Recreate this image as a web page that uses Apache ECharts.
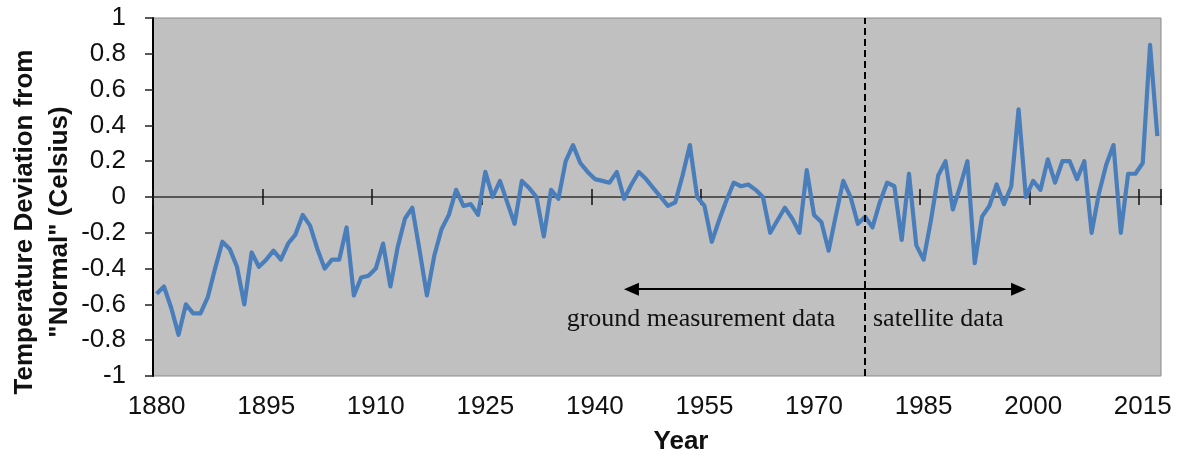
<!DOCTYPE html>
<html>
<head>
<meta charset="utf-8">
<script src="https://cdn.jsdelivr.net/npm/echarts@6/dist/echarts.min.js"></script>
<style>
html,body{margin:0;padding:0;background:#ffffff;}
#chart{width:1182px;height:459px;}
</style>
</head>
<body>
<div id="chart"></div>
<script>
// ---------- data ----------
const firstYear = 1880;
const lastYear = 2017;
const years = [];
for (let y = firstYear; y <= lastYear; y++) years.push(String(y));

const anomalies = [
  -0.54, -0.50, -0.62, -0.77, -0.60, -0.65, -0.65, -0.56, -0.40, -0.25, // 1880-1889
  -0.29, -0.39, -0.60, -0.31, -0.39, -0.35, -0.30, -0.35, -0.26, -0.21, // 1890-1899
  -0.10, -0.16, -0.29, -0.40, -0.35, -0.35, -0.17, -0.55, -0.45, -0.44, // 1900-1909
  -0.40, -0.26, -0.50, -0.28, -0.12, -0.06, -0.30, -0.55, -0.33, -0.18, // 1910-1919
  -0.10,  0.04, -0.05, -0.04, -0.10,  0.14,  0.00,  0.09, -0.03, -0.15, // 1920-1929
   0.09,  0.05,  0.00, -0.22,  0.04, -0.01,  0.20,  0.29,  0.19,  0.14, // 1930-1939
   0.10,  0.09,  0.08,  0.14, -0.01,  0.07,  0.14,  0.10,  0.05,  0.00, // 1940-1949
  -0.05, -0.03,  0.12,  0.29,  0.00, -0.05, -0.25, -0.13, -0.02,  0.08, // 1950-1959
   0.06,  0.07,  0.04,  0.00, -0.20, -0.13, -0.06, -0.12, -0.20,  0.15, // 1960-1969
  -0.10, -0.14, -0.30, -0.10,  0.09,  0.00, -0.15, -0.11, -0.17, -0.03, // 1970-1979
   0.08,  0.06, -0.24,  0.13, -0.27, -0.35, -0.13,  0.12,  0.20, -0.07, // 1980-1989
   0.06,  0.20, -0.37, -0.11, -0.05,  0.07, -0.04,  0.06,  0.49,  0.00, // 1990-1999
   0.09,  0.04,  0.21,  0.08,  0.20,  0.20,  0.10,  0.20, -0.20,  0.02, // 2000-2009
   0.18,  0.29, -0.20,  0.13,  0.13,  0.19,  0.85,  0.34              // 2010-2017
];

const yMin = -1, yMax = 1, yStep = 0.2;
const labelEvery = 15;
const dividerYear = '1977';
const groundArrowEnd = '1945';
const satelliteArrowEnd = '1998';
const arrowLevel = -0.515;

const yTitle = 'Temperature Deviation from\n"Normal" (Celsius)';
const xTitle = 'Year';
const groundText = 'ground measurement data';
const satelliteText = 'satellite data';

// ---------- chart ----------
const chart = echarts.init(document.getElementById('chart'), null, {renderer: 'canvas'});
const sans = '"Liberation Sans", Arial, sans-serif';
const serif = '"Liberation Serif", "Times New Roman", serif';

const option = {
  animation: false,
  grid: {
    left: 153, right: 21, top: 18, bottom: 83,
    show: true, backgroundColor: '#c0c0c0', borderColor: '#8a8a8a', borderWidth: 1
  },
  xAxis: [
    {
      type: 'category', data: years, boundaryGap: true, position: 'bottom',
      axisLine: {show: false, onZero: false},
      axisTick: {show: false},
      axisLabel: {interval: labelEvery - 1, margin: 18, fontSize: 26, color: '#111', fontFamily: sans},
      splitLine: {show: false}
    },
    {
      type: 'category', data: years, boundaryGap: true, position: 'top',
      axisLine: {show: true, onZero: true, onZeroAxisIndex: 0, lineStyle: {color: '#333', width: 1.5}},
      axisTick: {show: true, interval: labelEvery - 1, length: 8, lineStyle: {color: '#111', width: 1.5}},
      axisLabel: {show: false},
      splitLine: {show: false}
    },
    {
      type: 'category', data: years, boundaryGap: true, position: 'bottom',
      axisLine: {show: false, onZero: true, onZeroAxisIndex: 1},
      axisTick: {show: true, interval: labelEvery - 1, length: 8, lineStyle: {color: '#111', width: 1.5}},
      axisLabel: {show: false},
      splitLine: {show: false}
    }
  ],
  yAxis: [
    {
      type: 'value', min: yMin, max: yMax, interval: yStep,
      axisLine: {show: true, lineStyle: {color: '#000', width: 2}},
      axisTick: {show: true, length: 8, lineStyle: {color: '#222', width: 1.5}},
      axisLabel: {fontSize: 26, margin: 27, color: '#111', fontFamily: sans},
      splitLine: {show: false}
    },
    {
      type: 'value', min: yMin, max: yMax, interval: yStep, show: false,
      splitLine: {show: false}
    }
  ],
  series: [
    {
      type: 'line', xAxisIndex: 0, yAxisIndex: 0,
      data: anomalies, symbol: 'none', smooth: false,
      lineStyle: {color: '#4a7ebb', width: 4.2, join: 'round'},
      z: 3,
      markLine: {
        silent: true, animation: false,
        symbol: ['none', 'none'],
        label: {show: false},
        lineStyle: {color: '#000', width: 1.8, type: 'solid'},
        data: [
          {xAxis: dividerYear, lineStyle: {color: '#000', width: 2, type: [7, 4]}},
          [
            {coord: [dividerYear, arrowLevel], symbol: 'none', lineStyle: {color: '#000', width: 1.8, type: 'solid'}},
            {coord: [groundArrowEnd, arrowLevel], symbol: 'triangle', symbolSize: [13, 15]}
          ],
          [
            {coord: [dividerYear, arrowLevel], symbol: 'none', lineStyle: {color: '#000', width: 1.8, type: 'solid'}},
            {coord: [satelliteArrowEnd, arrowLevel], symbol: 'triangle', symbolSize: [13, 15]}
          ]
        ]
      }
    }
  ],
  graphic: [
    {
      type: 'text', x: 42, y: 222, rotation: Math.PI / 2,
      style: {text: yTitle, font: 'bold 26px ' + sans, fill: '#111', align: 'center', verticalAlign: 'middle', lineHeight: 35}
    },
    {
      type: 'text', x: 681, y: 442,
      style: {text: xTitle, font: 'bold 26px ' + sans, fill: '#111', align: 'center', verticalAlign: 'middle'}
    },
    {
      type: 'text', x: 701, y: 319,
      style: {text: groundText, font: '26px ' + serif, fill: '#111', align: 'center', verticalAlign: 'middle'}
    },
    {
      type: 'text', x: 873, y: 319,
      style: {text: satelliteText, font: '26px ' + serif, fill: '#111', align: 'left', verticalAlign: 'middle'}
    }
  ]
};
chart.setOption(option);
</script>
</body>
</html>
